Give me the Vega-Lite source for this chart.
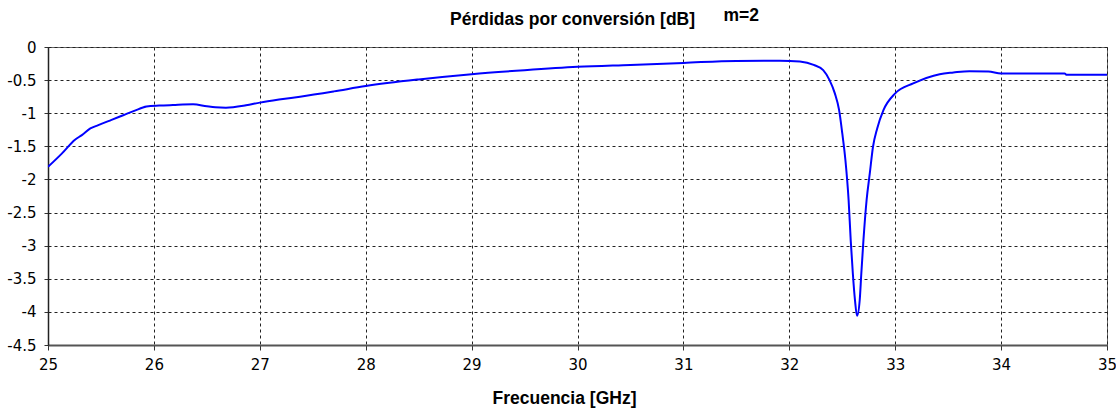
{
  "$schema": "https://vega.github.io/schema/vega-lite/v6.json",
  "width": 1059,
  "height": 298,
  "autosize": "none",
  "padding": {"left": 48, "top": 47, "right": 9, "bottom": 64},
  "background": "white",
  "title": {
    "text": "Pérdidas por conversión [dB]",
    "anchor": "start",
    "frame": "group",
    "dx": 402,
    "offset": -22,
    "font": "Liberation Sans",
    "fontSize": 17.5,
    "fontWeight": "bold",
    "color": "#000000"
  },
  "config": {
    "view": {"stroke": "#666666", "strokeWidth": 1},
    "axis": {
      "labelFont": "DejaVu Sans",
      "labelFontSize": 15,
      "labelColor": "#000000",
      "gridColor": "#222222",
      "gridDash": [3, 3],
      "gridWidth": 1,
      "gridOpacity": 1,
      "domainColor": "#555555",
      "tickColor": "#333333",
      "titleFont": "Liberation Sans",
      "titleFontSize": 17.5,
      "titleFontWeight": "bold",
      "titleColor": "#000000"
    }
  },
  "data": {
    "values": [
      {"f": 25.0, "v": -1.81},
      {"f": 25.13, "v": -1.61},
      {"f": 25.255, "v": -1.40},
      {"f": 25.32, "v": -1.33},
      {"f": 25.40, "v": -1.23},
      {"f": 25.475, "v": -1.18},
      {"f": 25.6, "v": -1.10},
      {"f": 25.71, "v": -1.03},
      {"f": 25.82, "v": -0.96},
      {"f": 25.93, "v": -0.90},
      {"f": 26.05, "v": -0.885},
      {"f": 26.18, "v": -0.876},
      {"f": 26.37, "v": -0.866},
      {"f": 26.5, "v": -0.895},
      {"f": 26.58, "v": -0.91},
      {"f": 26.68, "v": -0.916},
      {"f": 26.87, "v": -0.88},
      {"f": 27.0, "v": -0.84},
      {"f": 27.2, "v": -0.79},
      {"f": 27.38, "v": -0.75},
      {"f": 27.7, "v": -0.67},
      {"f": 28.0, "v": -0.59},
      {"f": 28.5, "v": -0.49},
      {"f": 29.0, "v": -0.41},
      {"f": 29.5, "v": -0.35},
      {"f": 30.0, "v": -0.30},
      {"f": 30.5, "v": -0.27},
      {"f": 31.0, "v": -0.24},
      {"f": 31.5, "v": -0.21},
      {"f": 31.91, "v": -0.207},
      {"f": 32.10, "v": -0.22},
      {"f": 32.23, "v": -0.27},
      {"f": 32.32, "v": -0.35},
      {"f": 32.38, "v": -0.50},
      {"f": 32.43, "v": -0.70},
      {"f": 32.47, "v": -0.95},
      {"f": 32.50, "v": -1.30},
      {"f": 32.53, "v": -1.71},
      {"f": 32.56, "v": -2.31},
      {"f": 32.58, "v": -2.92},
      {"f": 32.60, "v": -3.42},
      {"f": 32.62, "v": -3.82},
      {"f": 32.64, "v": -4.06},
      {"f": 32.665, "v": -3.82},
      {"f": 32.68, "v": -3.42},
      {"f": 32.70, "v": -2.92},
      {"f": 32.73, "v": -2.31},
      {"f": 32.76, "v": -1.91},
      {"f": 32.79, "v": -1.51},
      {"f": 32.83, "v": -1.23},
      {"f": 32.89, "v": -0.95},
      {"f": 33.0, "v": -0.70},
      {"f": 33.17, "v": -0.55},
      {"f": 33.42, "v": -0.41},
      {"f": 33.55, "v": -0.385},
      {"f": 33.7, "v": -0.365},
      {"f": 33.88, "v": -0.37},
      {"f": 34.0, "v": -0.40},
      {"f": 34.60, "v": -0.40},
      {"f": 34.62, "v": -0.42},
      {"f": 35.0, "v": -0.42}
    ]
  },
  "mark": {"type": "line", "color": "#0000FF", "strokeWidth": 2, "clip": true, "interpolate": "monotone"},
  "encoding": {
    "x": {
      "field": "f",
      "type": "quantitative",
      "scale": {"domain": [25, 35], "nice": false, "zero": false},
      "axis": {
        "title": "Frecuencia [GHz]",
        "values": [25, 26, 27, 28, 29, 30, 31, 32, 33, 34, 35],
        "labelExpr": "'' + datum.value",
        "tickSize": 5,
        "labelPadding": 7,
        "titleX": 516,
        "titleY": 58,
        "titleBaseline": "alphabetic",
        "domainWidth": 2,
        "labelFlush": false
      }
    },
    "y": {
      "field": "v",
      "type": "quantitative",
      "scale": {"domain": [-4.5, 0], "nice": false, "zero": false},
      "axis": {
        "title": "m=2",
        "titleAngle": 0,
        "titleAlign": "left",
        "titleBaseline": "alphabetic",
        "titleX": 675,
        "titleY": -26.5,
        "values": [0, -0.5, -1, -1.5, -2, -2.5, -3, -3.5, -4, -4.5],
        "labelExpr": "'' + datum.value",
        "tickSize": 4,
        "labelPadding": 8,
        "domainColor": "#222222",
        "domainWidth": 1.5,
        "labelFlush": false
      }
    }
  }
}
